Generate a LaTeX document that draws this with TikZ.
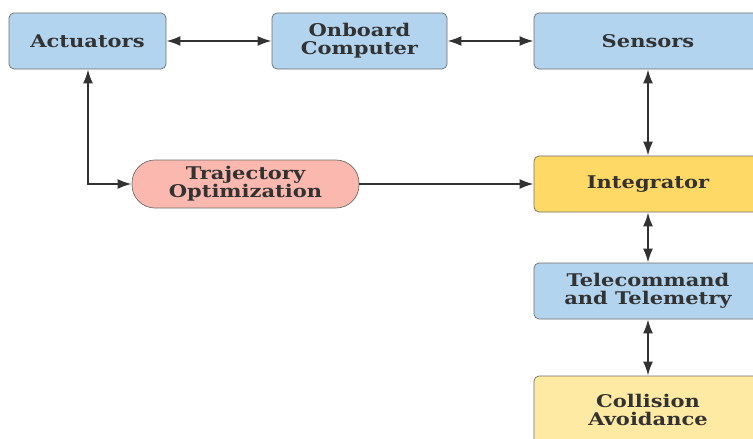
\documentclass[tikz,border=0pt]{standalone}
\usepackage{fontspec}
\setmainfont{DejaVu Serif}[BoldFeatures={FakeStretch=1.2}]
\usetikzlibrary{arrows.meta}
\definecolor{bluebox}{RGB}{178,212,238}
\definecolor{goldbox}{RGB}{255,217,102}
\definecolor{paleyellow}{RGB}{255,234,163}
\definecolor{salmon}{RGB}{250,184,174}
\definecolor{edgegray}{RGB}{110,110,110}
\definecolor{txt}{RGB}{50,50,50}
\tikzset{
  lbl/.style={align=center, text=txt, font=\bfseries\fontsize{17.5}{18}\selectfont, inner sep=0pt},
  box/.style={lbl, draw=edgegray, line width=0.7pt, rounded corners=5pt, minimum height=56pt},
  oval/.style={lbl, draw=edgegray, line width=0.7pt, rounded corners=23pt, fill=salmon, minimum width=227pt,
    minimum height=48pt},
  conn/.style={draw=txt, line width=2.1pt, -{Latex[length=14pt,width=10pt]}},
  biconn/.style={draw=txt, line width=2.1pt, {Latex[length=14pt,width=10pt]}-{Latex[length=14pt,width=10pt]}}
}
\begin{document}
\begin{tikzpicture}[x=1pt,y=-1pt]
\useasboundingbox (0,0) rectangle (753,439);
\node[box, fill=bluebox, minimum width=157pt] (act) at (87.5,41) {Actuators};
\node[box, fill=bluebox, minimum width=175pt] (obc) at (359.5,41) {Onboard\\Computer};
\node[box, fill=bluebox, minimum width=228pt] (sen) at (648,41) {Sensors};
\node[box, fill=goldbox, minimum width=228pt] (int) at (648,184) {Integrator};
\node[box, fill=bluebox, minimum width=228pt] (tel) at (648,291) {Telecommand\\and Telemetry};
\node[box, fill=paleyellow, minimum width=228pt, minimum height=90pt] (col) at (648,421) {};
\node[lbl] (coltxt) at (648,410) {Collision\\Avoidance};
\node[oval] (traj) at (245.5,184) {Trajectory\\Optimization};
\coordinate (corner) at (88,184);
\draw[biconn] (act) -- (obc);
\draw[biconn] (obc) -- (sen);
\draw[biconn] (sen) -- (int);
\draw[biconn] (act.south -| corner) -- (corner) -- (traj.west);
\draw[conn] (traj) -- (int);
\draw[biconn] (int) -- (tel);
\draw[biconn] (tel) -- (col);
\end{tikzpicture}
\end{document}
